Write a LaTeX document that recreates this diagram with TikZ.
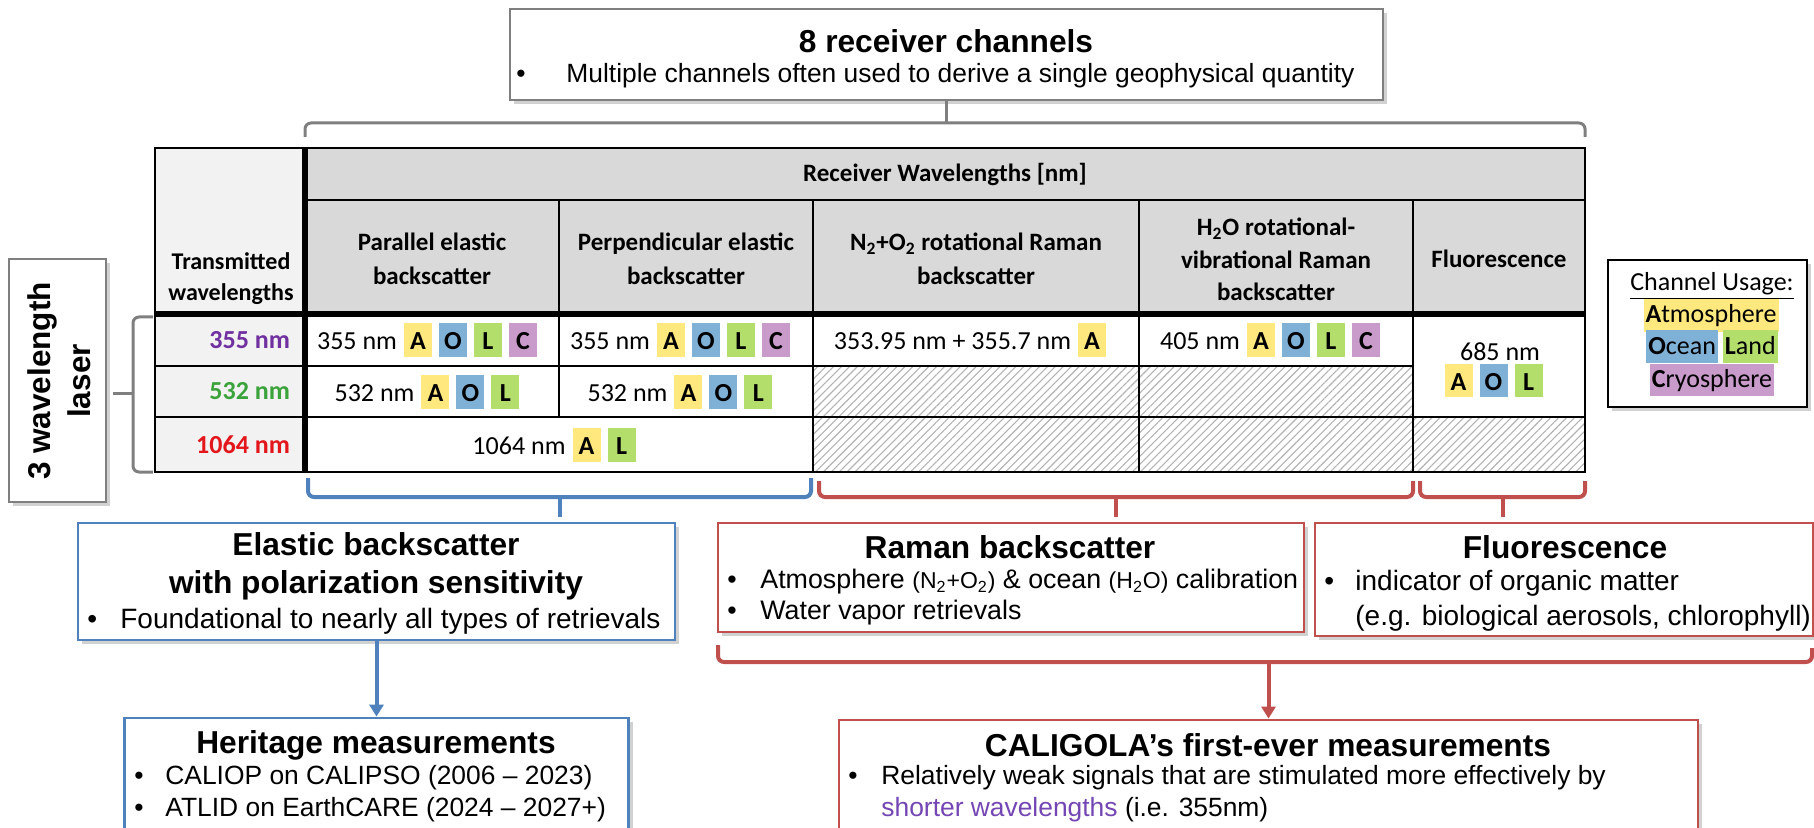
\documentclass[tikz,border=0pt]{standalone}
\usepackage{fontspec}
\setmainfont{Liberation Sans}
\newfontfamily\calfont{Carlito}
\usetikzlibrary{arrows.meta,shadows,patterns.meta}

\definecolor{hdrgray}{HTML}{D9D9D9}
\definecolor{lblgray}{HTML}{F2F2F2}
\definecolor{framegray}{HTML}{7F7F7F}
\definecolor{atmyellow}{HTML}{FFE97F}
\definecolor{oceanblue}{HTML}{7FB0D6}
\definecolor{landgreen}{HTML}{B3DE6B}
\definecolor{cryopurple}{HTML}{C89BCB}
\definecolor{elasticblue}{HTML}{4F81BD}
\definecolor{ramanred}{HTML}{C0504D}
\definecolor{uvpurple}{HTML}{7030A0}
\definecolor{visgreen}{HTML}{3BA33B}
\definecolor{irred}{HTML}{E3161C}
\definecolor{shortpurple}{HTML}{7446B4}

\newcommand\bul[1][16.5pt]{\makebox[#1][l]{\textbullet}}
\newcommand\chem[1]{{\fontsize{11.5}{14}\selectfont #1}}
\newcommand\chip[2]{\hspace{3.5pt}{\setlength{\fboxsep}{0pt}\colorbox{#1}{\makebox[14pt]{\rule[-3.5pt]{0pt}{17pt}\textbf{#2}}}}}
\newcommand\useA{\chip{atmyellow}{A}}
\newcommand\useO{\chip{oceanblue}{O}}
\newcommand\useL{\chip{landgreen}{L}}
\newcommand\useC{\chip{cryopurple}{C}}
\newcommand\keybox[2]{{\setlength{\fboxsep}{0pt}\colorbox{#1}{\hspace{1pt}\rule[-4.5pt]{0pt}{16.5pt}#2\hspace{1pt}}}}

\begin{document}
\begin{tikzpicture}
[
x=0.5pt,y=-0.5pt,
box/.style={draw=#1,line width=1.4pt,fill=white,inner sep=0pt,
            drop shadow={shadow xshift=2pt,shadow yshift=-2pt,opacity=0.3,fill=black!60}},
heading/.style={font=\fontsize{15.85}{19}\selectfont\bfseries,align=center},
bullets/.style={font=\fontsize{13.2}{16}\selectfont,align=left,anchor=west,inner sep=0pt},
brace/.style={draw=#1,line width=2pt,rounded corners=3pt},
grid/.style={line width=1.2pt},
thick grid/.style={line width=2.6pt},
hatch/.style={pattern={Lines[angle=45,distance=2.8pt,line width=0.55pt]},pattern color=black!30},
colhead/.style={font=\calfont\bfseries\fontsize{12.5}{17}\selectfont,align=center},
cell/.style={font=\calfont\fontsize{13}{16}\selectfont,inner sep=0pt},
rowhead/.style={font=\calfont\bfseries\fontsize{13}{16}\selectfont,anchor=east,text=#1},
keyline/.style={font=\calfont\fontsize{13}{16}\selectfont,inner sep=0pt},
arrow/.style={draw=#1,line width=2pt,-{Triangle[width=7pt,length=6pt]}},
]
\useasboundingbox (0,0) rectangle (1814,828);
\clip (0,0) rectangle (1814,828);

% table
\fill[lblgray] (155,148) rectangle (305,472);
\fill[hdrgray] (305,148) rectangle (1585,314);
\path[hatch] (813,366) rectangle (1413,472) (1413,417) rectangle (1585,472);
\draw[grid] (155,148) rectangle (1585,472);
\draw[grid] (305,200) -- (1585,200) (155,366) -- (1413,366) (155,417) -- (1585,417);
\draw[grid] (559,200) -- (559,417) (813,200) -- (813,472) (1139,200) -- (1139,472) (1413,200) -- (1413,472);
\draw[thick grid] (305,148) -- (305,472) (155,314) -- (1585,314);

\node[colhead] (rcv) at (945,174) {Receiver Wavelengths [nm]};
\node[colhead,font=\calfont\bfseries\fontsize{12}{15.5}\selectfont] (tx) at (231,278.5) {Transmitted\\wavelengths};
\node[colhead] (par) at (432,259) {Parallel elastic\\backscatter};
\node[colhead] (perp) at (686,259) {Perpendicular elastic\\backscatter};
\node[colhead] (rot) at (976,259) {N\textsubscript{2}+O\textsubscript{2} rotational Raman\\backscatter};
\node[colhead,font=\calfont\bfseries\fontsize{12.5}{16.3}\selectfont] (vib) at (1276,259.5) {H\textsubscript{2}O rotational-\\vibrational Raman\\backscatter};
\node[colhead] (flu) at (1499,259) {Fluorescence};

\node[rowhead=uvpurple] (uv) at (297,340) {355 nm};
\node[rowhead=visgreen] (vis) at (297,391.5) {532 nm};
\node[rowhead=irred] (ir) at (297,444.5) {1064 nm};

\node[cell] (uvpar) at (427,340) {355 nm\useA\useO\useL\useC};
\node[cell] (uvperp) at (680,340) {355 nm\useA\useO\useL\useC};
\node[cell] (uvrot) at (970,340) {353.95 nm + 355.7 nm\useA};
\node[cell] (uvvib) at (1270,340) {405 nm\useA\useO\useL\useC};
\node[cell] (fluwl) at (1500,351.5) {685 nm};
\node[cell] (fluuse) at (1490,380.5) {\useA\useO\useL};
\node[cell] (vispar) at (427,391.5) {532 nm\useA\useO\useL};
\node[cell] (visperp) at (680,391.5) {532 nm\useA\useO\useL};
\node[cell] (irel) at (554,444.5) {1064 nm\useA\useL};

% channel usage key
\node[box=black,minimum width=99.5pt,minimum height=73.5pt] (key) at (1707.5,333.5) {};
\node[keyline] (keyhead) at (1712,286) {\underline{Channel Usage:}};
\node[keyline] (keyatm) at (1711,315.5) {\keybox{atmyellow}{\textbf{A}tmosphere}};
\node[keyline] (keyocl) at (1712,347) {\keybox{oceanblue}{\textbf{O}cean}\hspace{2.5pt}\keybox{landgreen}{\textbf{L}and}};
\node[keyline] (keycryo) at (1712,380) {\keybox{cryopurple}{\textbf{C}ryosphere}};

% laser
\node[box=framegray,minimum width=48.5pt,minimum height=121.5pt] (laser) at (57.5,380.5) {};
\node[rotate=90,align=center,font=\fontsize{15.75}{20}\selectfont\bfseries] (lasertext) at (59,381) {3 wavelength\\laser};
\draw[brace=framegray,line width=1.5pt] (153,317) -- (133,317) -- (133,472) -- (153,472);
\coordinate (lasertip) at (113,394);
\draw[brace=framegray,line width=1.5pt] (133,394) -- (lasertip);

% receiver channels
\node[box=framegray,minimum width=436.5pt,minimum height=45.5pt] (chan) at (946.5,54.5) {};
\node[heading] (chantitle) at (946,41) {8 receiver channels};
\node[bullets] (channote) at (516,76) {\bul[25pt]Multiple channels often used to derive a single geophysical quantity};
\coordinate (chantip) at (946.5,123);
\draw[brace=framegray,line width=1.5pt] (305,137) -- (305,123) -- (1585,123) -- (1585,137);
\draw[brace=framegray,line width=1.5pt] (chan.south) -- (chantip);

% elastic
\draw[brace=elasticblue] (308,478) -- (308,497) -- (811,497) -- (811,478);
\draw[brace=elasticblue] (560,497) -- (560,517);
\node[box=elasticblue,minimum width=298.5pt,minimum height=58.5pt] (elastic) at (376.5,581.5) {};
\node[heading] (elastictitle) at (376,566) {Elastic backscatter\\with polarization sensitivity};
\node[bullets,font=\fontsize{14}{17}\selectfont] (elasticnote) at (87,621) {\bul Foundational to nearly all types of retrievals};
\node[box=elasticblue,minimum width=252pt,minimum height=61pt] (heritage) at (376.5,779) {};
\node[heading] (heritagetitle) at (376,745) {Heritage measurements};
\node[bullets] (heritagenote) at (134,794) {\bul[15.5pt]CALIOP on CALIPSO (2006 \textendash{} 2023)\\\bul[15.5pt]ATLID on EarthCARE (2024 \textendash{} 2027+)};
\draw[arrow=elasticblue] (elastic.south) -- (heritage.north);

% raman
\draw[brace=ramanred] (819,481) -- (819,497) -- (1413,497) -- (1413,481);
\draw[brace=ramanred] (1116,497) -- (1116,517);
\node[box=ramanred,minimum width=293pt,minimum height=54.5pt] (raman) at (1011,577.5) {};
\node[heading] (ramantitle) at (1010,547) {Raman backscatter};
\node[bullets,font=\fontsize{13.4}{15.5}\selectfont] (ramannote) at (727,597.5) {\bul Atmosphere \chem{(N\textsubscript{2}+O\textsubscript{2})} \& ocean \chem{(H\textsubscript{2}O)} calibration\\\bul Water vapor retrievals};

% fluorescence
\draw[brace=ramanred] (1420,481) -- (1420,497) -- (1585,497) -- (1585,481);
\draw[brace=ramanred] (1503,497) -- (1503,517);
\node[box=ramanred,minimum width=249pt,minimum height=56.5pt] (fluor) at (1564,579.5) {};
\node[heading] (fluortitle) at (1565,547) {Fluorescence};
\node[bullets,font=\fontsize{14}{17.5}\selectfont] (fluornote) at (1324,600.5) {\bul[15.5pt]indicator of organic matter\\\hspace*{15.5pt}(e.g. biological aerosols, chlorophyll)};

% caligola
\draw[brace=ramanred] (718,645) -- (718,662) -- (1812,662) -- (1812,648);
\coordinate (ramantip) at (1268.5,662);
\node[box=ramanred,minimum width=429.5pt,minimum height=60pt] (caligola) at (1268.5,780) {};
\node[heading] (caligolatitle) at (1268,745) {CALIGOLA’s first-ever measurements};
\node[bullets] (caligolanote) at (848,794) {\bul Relatively weak signals that are stimulated more effectively by\\\hspace*{16.5pt}\textcolor{shortpurple}{shorter wavelengths} (i.e. 355nm)};
\draw[arrow=ramanred] (ramantip) -- (caligola.north);

\end{tikzpicture}
\end{document}
